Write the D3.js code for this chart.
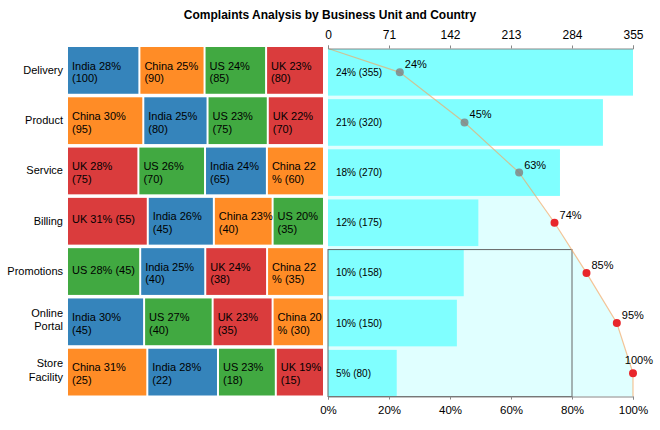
<!DOCTYPE html>
<html>
<head>
<meta charset="utf-8">
<script src="https://cdn.jsdelivr.net/npm/d3@7"></script>
<style>
  body { margin: 0; background: #fff; }
  svg { font-family: "Liberation Sans", Arial, sans-serif; }
</style>
</head>
<body>
<svg width="660" height="430"></svg>
<script>
// business units, top to bottom
var units = ["Delivery", "Product", "Service", "Billing", "Promotions", "Online Portal", "Store Facility"];
var countries = ["India", "China", "US", "UK"];

// complaints per country, one value per unit
var india = [100, 80, 65, 45, 40, 45, 22];
var china = [90, 95, 60, 40, 35, 30, 25];
var us    = [85, 75, 70, 35, 45, 40, 18];
var uk    = [80, 70, 75, 55, 38, 35, 15];

var topTicks = [0, 71, 142, 213, 284, 355];
var pctTicks = [0, 0.2, 0.4, 0.6, 0.8, 1];
var threshold = 0.8;

var countryColor = {
    India: "#1f77b4",
    China: "#ff7f0e",
    US: "#2ca02c",
    UK: "#d62728"
};

var series = { India: india, China: china, US: us, UK: uk };

var svg = d3.select("svg");

// per unit rows sorted by value
var rows = units.map(function(u, i) {
    var cells = countries.map(function(c) {
        return { country: c, value: series[c][i] };
    }).sort(function(a, b) { return b.value - a.value; });
    var total = d3.sum(cells, function(d) { return d.value; });
    return { unit: u, cells: cells, total: total };
});
var grand = d3.sum(rows, function(r) { return r.total; });
var running = 0;
rows.forEach(function(r) {
    running += r.total;
    r.cum = running / grand;
    r.share = r.total / grand;
});

var yLeft = d3.scaleBand().domain(units).range([47, 395.5]).paddingInner(0.07);
var yRight = d3.scaleBand().domain(units).range([49, 396.5]).paddingInner(0.07);

var xVal = d3.scaleLinear().domain([0, 355]).range([328, 633]);
var xPct = d3.scaleLinear().domain([0, 1]).range([328, 633]);
var topY = 48.5, bottomY = 396.5;

// title
svg.append("text")
    .attr("x", 330).attr("y", 19)
    .attr("text-anchor", "middle")
    .attr("font-size", 12).attr("font-weight", "bold")
    .text("Complaints Analysis by Business Unit and Country");

// text measuring helper
var probe = svg.append("text").attr("font-size", 11).attr("visibility", "hidden");
function textWidth(s, size) {
    probe.attr("font-size", size).text(s);
    return probe.node().getComputedTextLength();
}

// row labels
units.forEach(function(u) {
    var words = u.split(" "), lines = [], line = "";
    words.forEach(function(w) {
        var t = line ? line + " " + w : w;
        if (textWidth(t, 11) > 58 && line) { lines.push(line); line = w; }
        else line = t;
    });
    lines.push(line);
    var cy = yLeft(u) + yLeft.bandwidth() / 2;
    var n = lines.length;
    var t = svg.append("text")
        .attr("text-anchor", "end")
        .attr("font-size", 11);
    lines.forEach(function(l, i) {
        t.append("tspan")
            .attr("x", 63)
            .attr("y", cy + 3.5 + (i - (n - 1) / 2) * 13.5 - (n - 1) * 1.8)
            .text(l);
    });
});

// left panel: share of each country inside the unit
var cellLayer = svg.append("g");
rows.forEach(function(r) {
    var sx = d3.scaleLinear().domain([0, r.total]).range([68, 325]);
    var acc = 0;
    r.cells.forEach(function(c) {
        var x0 = sx(acc), x1 = sx(acc + c.value) - 2;
        acc += c.value;
        var y0 = yLeft(r.unit), h = yLeft.bandwidth();
        var w = x1 - x0;
        cellLayer.append("rect")
            .attr("x", x0).attr("y", y0)
            .attr("width", w).attr("height", h)
            .attr("fill", countryColor[c.country])
            .attr("fill-opacity", 0.9);

        var pct = Math.round(c.value / r.total * 100);
        var head = c.country + " " + pct + "%";
        var tail = "(" + c.value + ")";
        var full = head + " " + tail;
        var lines;
        if (textWidth(full, 11) <= w - 7.3) {
            lines = [full];
        } else if (textWidth(head, 11) <= w - 2) {
            lines = [head, tail];
        } else {
            // break the first line mid-word when it is still too wide
            var k = head.length;
            while (k > 1 && textWidth(head.slice(0, k), 11) > w - 2) k--;
            lines = [head.slice(0, k).trim(), head.slice(k).trim() + " " + tail];
        }
        var cy = y0 + h / 2;
        var n = lines.length;
        var t = cellLayer.append("text").attr("font-size", 11).attr("fill", "#000");
        lines.forEach(function(l, i) {
            t.append("tspan")
                .attr("x", x0 + 4)
                .attr("y", cy + 2 - (n - 1) * 2.8 + i * 12.7)
                .text(l);
        });
    });
});

// right panel: pareto
var pts = [[xPct(0), topY]];
rows.forEach(function(r) {
    pts.push([xPct(r.cum), yRight(r.unit) + yRight.bandwidth() / 2]);
});
pts.push([xPct(1), bottomY]);

var areaPts = pts.concat([[xPct(0), bottomY]]);
svg.append("path")
    .attr("d", "M" + areaPts.join("L") + "Z")
    .attr("fill", "#e0ffff");

svg.selectAll(".bar")
    .data(rows)
    .enter()
    .append("rect")
        .attr("class", "bar")
        .attr("x", xVal(0))
        .attr("y", function(d) { return yRight(d.unit); })
        .attr("width", function(d) { return xVal(d.total) - xVal(0); })
        .attr("height", yRight.bandwidth())
        .attr("fill", "#80ffff");

svg.selectAll(".barlabel")
    .data(rows)
    .enter()
    .append("text")
        .attr("class", "barlabel")
        .attr("x", 336)
        .attr("y", function(d) { return yRight(d.unit) + yRight.bandwidth() / 2 + 3.5; })
        .attr("font-size", 10)
        .text(function(d) { return Math.round(d.share * 100) + "% (" + d.total + ")"; });

// threshold box
var firstOver = rows.filter(function(r) { return r.cum >= threshold; })[0];
svg.append("rect")
    .attr("x", xPct(0))
    .attr("y", yRight(firstOver.unit))
    .attr("width", xPct(threshold) - xPct(0))
    .attr("height", bottomY - yRight(firstOver.unit))
    .attr("fill", "none")
    .attr("stroke", "#666")
    .attr("stroke-width", 1);

svg.append("path")
    .attr("d", d3.line()(pts))
    .attr("fill", "none")
    .attr("stroke", "#f4a460")
    .attr("stroke-opacity", 0.65)
    .attr("stroke-width", 1.2);

svg.selectAll(".pt")
    .data(rows)
    .enter()
    .append("circle")
        .attr("class", "pt")
        .attr("cx", function(d) { return xPct(d.cum); })
        .attr("cy", function(d) { return yRight(d.unit) + yRight.bandwidth() / 2; })
        .attr("r", 4)
        .attr("fill", function(d) { return d.cum <= 0.7 ? "#808080" : "#e8262b"; })
        .attr("fill-opacity", function(d) { return d.cum <= 0.7 ? 0.8 : 1; });

rows.forEach(function(r) {
    var label = Math.round(r.cum * 100) + "%";
    var px = xPct(r.cum), py = yRight(r.unit) + yRight.bandwidth() / 2;
    var w = textWidth(label, 11);
    var x = px + 5, y = py - 4;
    if (x + w > 653) { x = 653 - w; y = py - 9; }
    svg.append("text")
        .attr("x", x).attr("y", y)
        .attr("font-size", 11)
        .text(label);
});

// axes
var topAxis = svg.append("g")
    .attr("transform", "translate(0," + topY + ")")
    .call(d3.axisTop(xVal).tickValues(topTicks).tickSize(3).tickPadding(7));
var bottomAxis = svg.append("g")
    .attr("transform", "translate(0," + bottomY + ")")
    .call(d3.axisBottom(xPct).tickValues(pctTicks).tickSize(3).tickPadding(6)
        .tickFormat(d3.format(".0%")));
[topAxis, bottomAxis].forEach(function(a) {
    a.attr("font-family", null);
    a.selectAll("path, line").attr("stroke", "#888");
    a.selectAll("text").attr("fill", "#000");
});
topAxis.attr("font-size", 12);
bottomAxis.attr("font-size", 11.5);

probe.remove();
</script>
</body>
</html>
